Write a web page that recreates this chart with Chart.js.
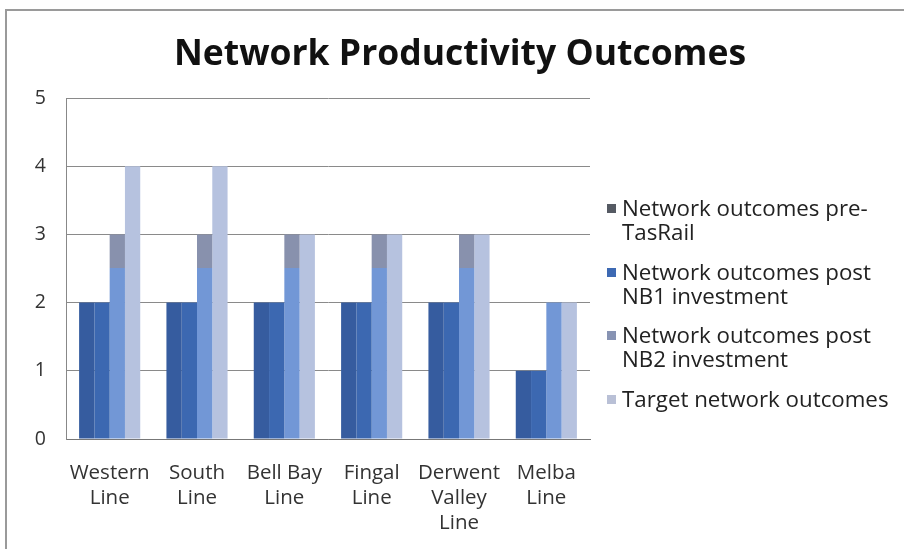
<!DOCTYPE html>
<html>
<head>
<meta charset="utf-8">
<script src="https://cdn.jsdelivr.net/npm/chart.js@4.4.1/dist/chart.umd.min.js"></script>
<style>
  html, body { margin: 0; padding: 0; background: #fff; }
  #wrap { position: relative; width: 904px; height: 549px; overflow: hidden; }
  #frame { position: absolute; left: 5px; top: 9px; width: 920px; height: 560px; border: 2px solid #9a9a9a; box-sizing: border-box; }
  #title { position: absolute; left: 0; width: 920px; top: 27px; text-align: center; font-family: "Open Sans", sans-serif; font-weight: bold; font-size: 35.5px; color: #111; letter-spacing: 0; }
  #legend { position: absolute; left: 607px; top: 196px; font-family: "Open Sans", sans-serif; font-size: 22.3px; color: #222; }
  .item { position: relative; padding-left: 15px; width: 278px; line-height: 24px; margin-bottom: 15.5px; }
  .mk { position: absolute; left: 0; top: 8px; width: 9px; height: 9px; }
  canvas { position: absolute; left: 0; top: 0; }
</style>
</head>
<body>
<div id="wrap">
  <div id="frame"></div>
  <canvas id="c" width="904" height="549"></canvas>
  <div id="title">Network Productivity Outcomes</div>
  <div id="legend"></div>
</div>
<script>
const categories = [['Western','Line'], ['South','Line'], ['Bell Bay','Line'], ['Fingal','Line'], ['Derwent','Valley','Line'], ['Melba','Line']];
const seriesNames = ['Network outcomes pre-TasRail', 'Network outcomes post NB1 investment', 'Network outcomes post NB2 investment', 'Target network outcomes'];
const preTasRail = [2, 2, 2, 2, 2, 1];
const postNB1 = [2, 2, 2, 2, 2, 1];
const postNB2 = [3, 3, 3, 3, 3, 2];
const target = [4, 4, 3, 3, 3, 2];
const yTicks = [0, 1, 2, 3, 4, 5];

const barColors = ['#365c9f', '#3c68b1', '#7297d6', '#b6c2df'];
const legendColors = ['#555a63', '#3d69b3', '#8793b3', '#b9c0d6'];
const nb2TopColor = '#8891ad';

function nb2Fill(ctx) {
  const ch = ctx.chart;
  const a = ch.chartArea;
  if (!a) return barColors[2];
  const y = ch.scales.y.getPixelForValue(2.5);
  const g = ch.ctx.createLinearGradient(0, a.bottom, 0, a.top);
  const f = Math.min(1, Math.max(0, (a.bottom - y) / (a.bottom - a.top)));
  g.addColorStop(0, barColors[2]);
  g.addColorStop(f, barColors[2]);
  g.addColorStop(f, nb2TopColor);
  g.addColorStop(1, nb2TopColor);
  return g;
}

const seriesData = [preTasRail, postNB1, postNB2, target];
const datasets = seriesData.map((d, i) => ({
  label: seriesNames[i],
  data: d,
  backgroundColor: i === 2 ? nb2Fill : barColors[i],
  borderWidth: 0,
  categoryPercentage: 0.70,
  barPercentage: 1.0
}));

new Chart(document.getElementById('c'), {
  type: 'bar',
  data: { labels: categories, datasets },
  options: {
    responsive: false,
    animation: false,
    layout: { padding: { top: 98, right: 314, left: 0, bottom: 0 } },
    plugins: { legend: { display: false }, title: { display: false }, tooltip: { enabled: false } },
    scales: {
      x: {
        grid: { display: false, drawTicks: false },
        border: { display: true, color: '#777', width: 1 },
        ticks: { color: '#333', font: { family: 'Open Sans', size: 20.5, lineHeight: 1.22 }, padding: 22, maxRotation: 0, autoSkip: false },
        afterFit: (s) => { s.height = 110; }
      },
      y: {
        min: 0, max: 5,
        afterBuildTicks: (s) => { s.ticks = yTicks.map(v => ({ value: v })); },
        grid: { color: '#8a8a8a', drawTicks: false, lineWidth: 1 },
        border: { display: true, color: '#888', width: 1 },
        ticks: { color: '#333', font: { family: 'Open Sans', size: 19.5 }, padding: 20 },
        afterFit: (s) => { s.width = 66; }
      }
    }
  }
});

const lg = document.getElementById('legend');
seriesNames.forEach((n, i) => {
  const d = document.createElement('div');
  d.className = 'item';
  d.innerHTML = '<span class="mk" style="background:' + legendColors[i] + '"></span>' + n;
  lg.appendChild(d);
});
</script>
</body>
</html>
